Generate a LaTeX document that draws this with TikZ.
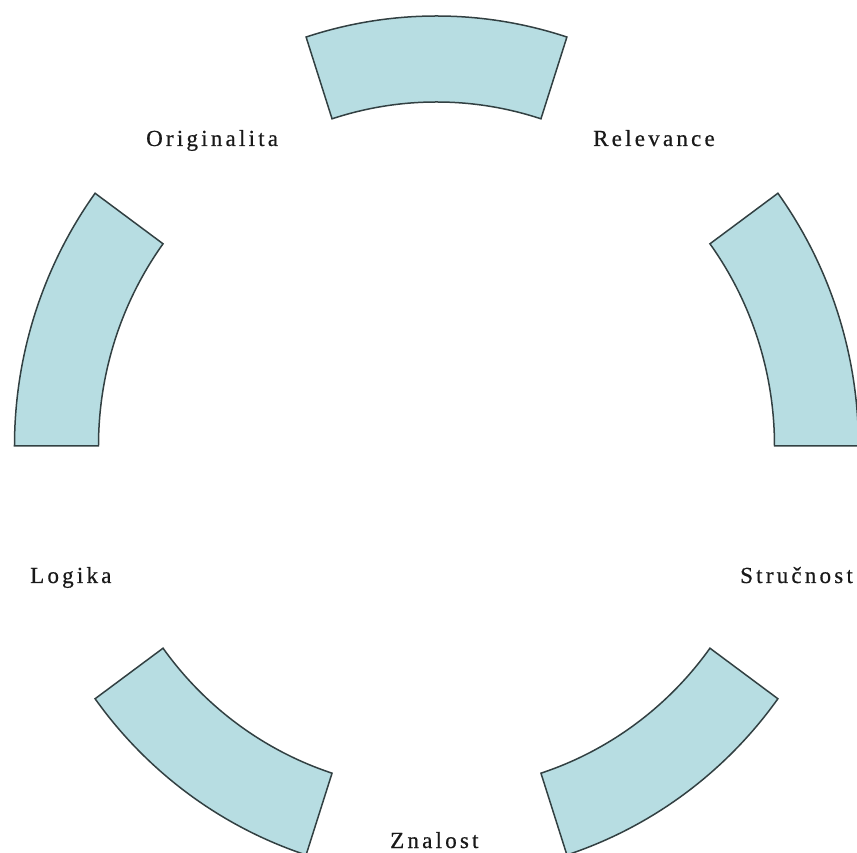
\documentclass[tikz,border=0pt]{standalone}
\usepackage{fontspec}
\newfontfamily\lblfont{Liberation Serif}[LetterSpace=14,FakeBold=0.6]
\definecolor{segfill}{RGB}{183,221,226}
\definecolor{segline}{RGB}{50,64,66}
\begin{document}
\begin{tikzpicture}[x=1pt,y=1pt,
  seg/.style={fill=segfill,draw=segline,line width=1.5pt,line join=miter},
  lbl/.style={anchor=base west,inner sep=0pt,font=\lblfont\fontsize{23}{27}\selectfont,text=black!90}]
\useasboundingbox (-436.5,-407) rectangle (420.5,446);
\clip (-436.5,-407) rectangle (420.5,446);
\foreach \a in {0,72,144,216,288}{
  \pgfmathsetmacro{\b}{\a+36}
  \draw[seg] (\a:422 and 430) arc[start angle=\a,end angle=\b,x radius=422,y radius=430]
    -- (\b:338 and 344) arc[start angle=\b,end angle=\a,x radius=338,y radius=344] -- cycle;
}
\node[lbl] (orig) at (-290.5,300) {Originalita};
\node[lbl] (rel) at (156.5,300) {Relevance};
\node[lbl] (log) at (-406.5,-137) {Logika};
\node[lbl] (stru) at (303.5,-137) {Stručnost};
\node[lbl] (zna) at (-46.5,-402) {Znalost};
\end{tikzpicture}
\end{document}
